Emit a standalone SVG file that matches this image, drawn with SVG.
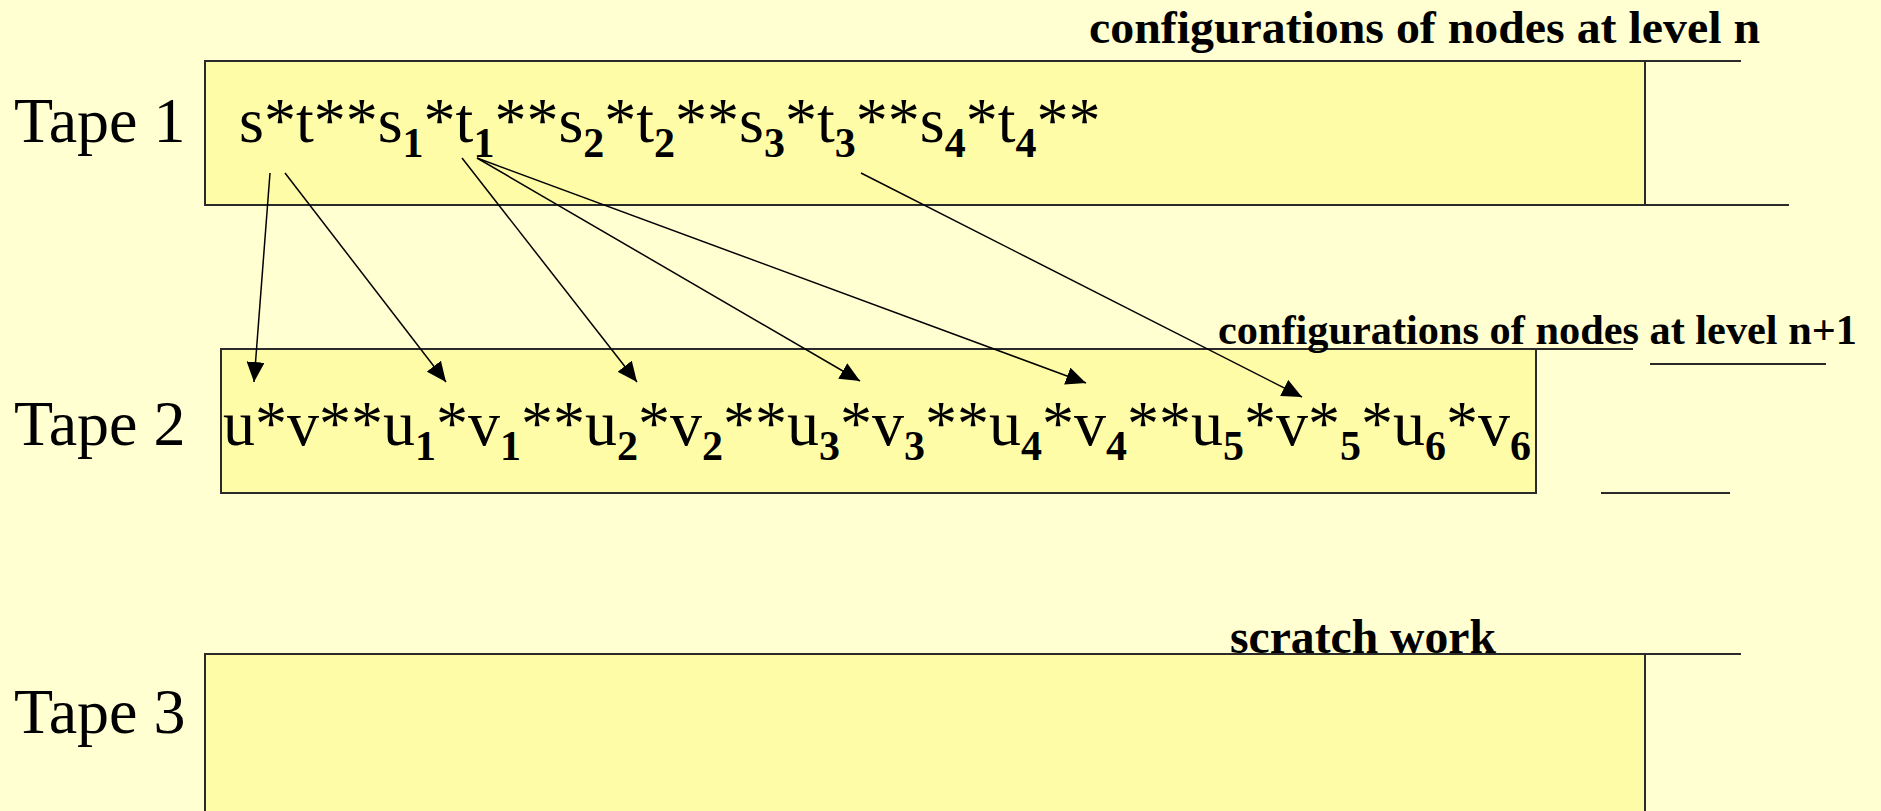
<svg xmlns="http://www.w3.org/2000/svg" width="1881" height="811" viewBox="0 0 1881 811">
  <style>
    .bg { fill: #FFFFD2; }
    .tapebox { fill: #FFFCA8; stroke: #2a2a2a; stroke-width: 2; }
    .edge { stroke: #2a2a2a; stroke-width: 2; fill: none; }
    .label { font-family: "Liberation Serif", "Times New Roman", serif; font-size: 64px; fill: #000; }
    .content { font-family: "Liberation Serif", "Times New Roman", serif; font-size: 64px; fill: #000; }
    .sub { font-size: 42px; font-weight: bold; }
    .caption { font-family: "Liberation Serif", "Times New Roman", serif; font-weight: bold; fill: #000; }
    .arrow { stroke: #000; stroke-width: 1.5; fill: none; marker-end: url(#head); }
  </style>
  <defs>
    <marker id="head" markerUnits="userSpaceOnUse" markerWidth="20" markerHeight="18" refX="20" refY="9" orient="auto">
      <path d="M0,0 L20,9 L0,18 Z" fill="#000"/>
    </marker>
  </defs>
  <rect class="bg" x="0" y="0" width="1881" height="811"/>

  <g id="tape1">
    <rect class="tapebox" x="205" y="61" width="1440" height="144"/>
    <line class="edge" x1="1645" y1="61" x2="1741" y2="61"/>
    <line class="edge" x1="1645" y1="205" x2="1789" y2="205"/>
    <text class="label" x="14" y="142">Tape 1</text>
    <text class="content" x="239" y="142">s*t**s<tspan class="sub" dy="15">1</tspan><tspan dy="-15">*t</tspan><tspan class="sub" dy="15">1</tspan><tspan dy="-15">**s</tspan><tspan class="sub" dy="15">2</tspan><tspan dy="-15">*t</tspan><tspan class="sub" dy="15">2</tspan><tspan dy="-15">**s</tspan><tspan class="sub" dy="15">3</tspan><tspan dy="-15">*t</tspan><tspan class="sub" dy="15">3</tspan><tspan dy="-15">**s</tspan><tspan class="sub" dy="15">4</tspan><tspan dy="-15">*t</tspan><tspan class="sub" dy="15">4</tspan><tspan dy="-15">**</tspan></text>
    <text class="caption" x="1089" y="43" font-size="46" textLength="671" lengthAdjust="spacingAndGlyphs">configurations of nodes at level n</text>
  </g>

  <g id="tape2">
    <rect class="tapebox" x="221" y="349" width="1315" height="144"/>
    <line class="edge" x1="1536" y1="349" x2="1633" y2="349"/>
    <line class="edge" x1="1650" y1="364" x2="1826" y2="364"/>
    <line class="edge" x1="1601" y1="493" x2="1730" y2="493"/>
    <text class="label" x="14" y="445">Tape 2</text>
    <text class="content" x="223" y="445">u*v**u<tspan class="sub" dy="15">1</tspan><tspan dy="-15">*v</tspan><tspan class="sub" dy="15">1</tspan><tspan dy="-15">**u</tspan><tspan class="sub" dy="15">2</tspan><tspan dy="-15">*v</tspan><tspan class="sub" dy="15">2</tspan><tspan dy="-15">**u</tspan><tspan class="sub" dy="15">3</tspan><tspan dy="-15">*v</tspan><tspan class="sub" dy="15">3</tspan><tspan dy="-15">**u</tspan><tspan class="sub" dy="15">4</tspan><tspan dy="-15">*v</tspan><tspan class="sub" dy="15">4</tspan><tspan dy="-15">**u</tspan><tspan class="sub" dy="15">5</tspan><tspan dy="-15">*v*</tspan><tspan class="sub" dy="15">5</tspan><tspan dy="-15">*u</tspan><tspan class="sub" dy="15">6</tspan><tspan dy="-15">*v</tspan><tspan class="sub" dy="15">6</tspan></text>
    <text class="caption" x="1218" y="344" font-size="42" textLength="639" lengthAdjust="spacingAndGlyphs">configurations of nodes at level n+1</text>
  </g>

  <g id="tape3">
    <rect class="tapebox" x="205" y="654" width="1440" height="170"/>
    <line class="edge" x1="1645" y1="654" x2="1741" y2="654"/>
    <text class="label" x="14" y="733">Tape 3</text>
    <text class="caption" x="1230" y="653" font-size="48" textLength="266" lengthAdjust="spacingAndGlyphs">scratch work</text>
  </g>

  <g id="connectors">
    <line class="arrow" x1="270" y1="173" x2="254" y2="382"/>
    <line class="arrow" x1="285" y1="173" x2="446" y2="382"/>
    <line class="arrow" x1="462" y1="158" x2="637" y2="382"/>
    <line class="arrow" x1="477" y1="158" x2="860" y2="381"/>
    <line class="arrow" x1="477" y1="158" x2="1086" y2="383"/>
    <line class="arrow" x1="861" y1="173" x2="1302" y2="397"/>
  </g>
</svg>
